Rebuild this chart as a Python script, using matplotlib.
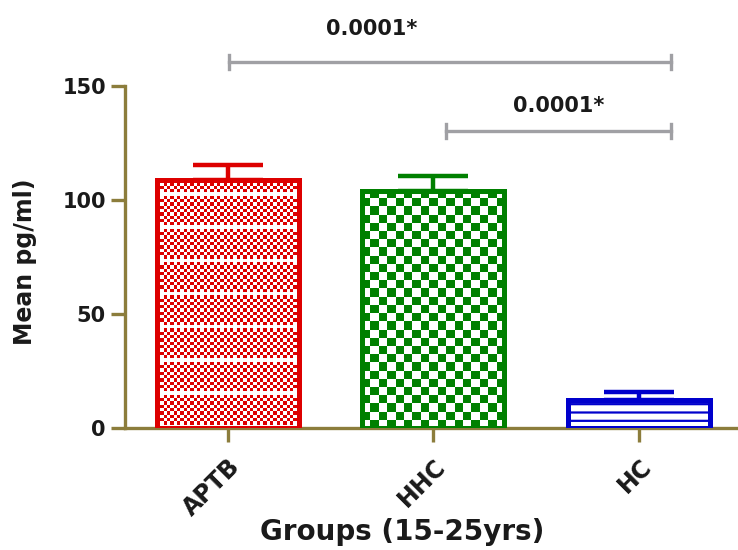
import matplotlib.pyplot as plt
from matplotlib.colors import ListedColormap
import numpy as np

plt.rcParams['font.family'] = ['DejaVu Sans']
plt.rcParams['font.weight'] = 'bold'
plt.rcParams['hatch.linewidth'] = 1.6

groups = ["APTB", "HHC", "HC"]
means = [108.8, 104.0, 12.3]
sem = [6.6, 6.5, 3.5]
colors = ["#dd0000", "#008000", "#0000cc"]

# comparisons: (from group, to group, label)
comparisons = [(0, 2, "0.0001*"), (1, 2, "0.0001*")]

axis_col = "#8c7d3c"
text_col = "#1a1a1a"

fig = plt.figure(figsize=(7.38, 5.5), dpi=100)
ax = fig.add_axes([0.169, 0.222, 0.831, 0.622])

x = np.arange(len(groups))
bars = ax.bar(x, means, width=0.69, facecolor="none", edgecolor=colors,
              linewidth=3.6, zorder=3)
for i in range(len(groups)):
    ax.errorbar(x[i], means[i], yerr=[[0], [sem[i]]], fmt="none",
                ecolor=colors[i], elinewidth=3.2, capsize=25, capthick=3.2, zorder=2)

ax.set_xlim(-0.5, 2.48)
ax.set_ylim(0, 150)
fig.canvas.draw()

# checker fills for the first two bars, horizontal lines for the last
cell_px = [3.3, 8]
for i, b in enumerate(bars):
    if i < 2:
        bb = b.get_window_extent()
        nx = max(2, int(bb.width / cell_px[i]))
        ny = max(2, int(bb.height / cell_px[i]))
        yy, xx = np.mgrid[0:ny, 0:nx]
        tex = ((xx + yy) % 2).astype(float)
        if i == 0:
            tex[(yy % 10) == 0] = 0
        im = ax.imshow(tex, extent=(b.get_x(), b.get_x() + b.get_width(), 0, b.get_height()),
                       cmap=ListedColormap(["white", colors[i]]), interpolation="nearest",
                       aspect="auto", origin="lower", zorder=2.5)
        im.set_clip_path(b)
    else:
        b.set_hatch("--")
ax.set_xlim(-0.5, 2.48)
ax.set_ylim(0, 150)

# significance brackets
offs = [(0.005, 2.155, 160.5, 175, 0.70), (1.06, 2.155, 130.3, 141, 1.61)]
for (g0, g1, lab), (x0, x1, yb, yt, xt) in zip(comparisons, offs):
    ax.plot([x0, x1], [yb, yb], color="#a0a0a4", lw=2.4, clip_on=False, zorder=4)
    for xe in (x0, x1):
        ax.plot([xe, xe], [yb - 3, yb + 3], color="#a0a0a4", lw=2.4, clip_on=False, zorder=4)
    ax.text(xt, yt, lab, ha="center", va="center", fontsize=15, fontweight="bold",
            color=text_col, clip_on=False)

for s in ["top", "right"]:
    ax.spines[s].set_visible(False)
for s in ["left", "bottom"]:
    ax.spines[s].set_color(axis_col)
    ax.spines[s].set_linewidth(2.4)

ax.set_yticks([0, 50, 100, 150])
ax.set_xticks(x)
ax.set_xticklabels(groups, rotation=45, ha="right", rotation_mode="anchor")
ax.tick_params(axis="both", colors=axis_col, width=2.4, length=10, labelsize=15,
               labelcolor=text_col)
ax.tick_params(axis="x", pad=9, labelsize=17)
ax.set_ylabel("Mean pg/ml)", fontsize=17, fontweight="bold", color=text_col, va="center")
ax.yaxis.set_label_coords(-0.163, 0.485)
ax.set_xlabel("Groups (15-25yrs)", fontsize=20, fontweight="bold", color=text_col, va="center")
ax.xaxis.set_label_coords(0.453, -0.304)

fig.savefig("out.png", dpi=100)
